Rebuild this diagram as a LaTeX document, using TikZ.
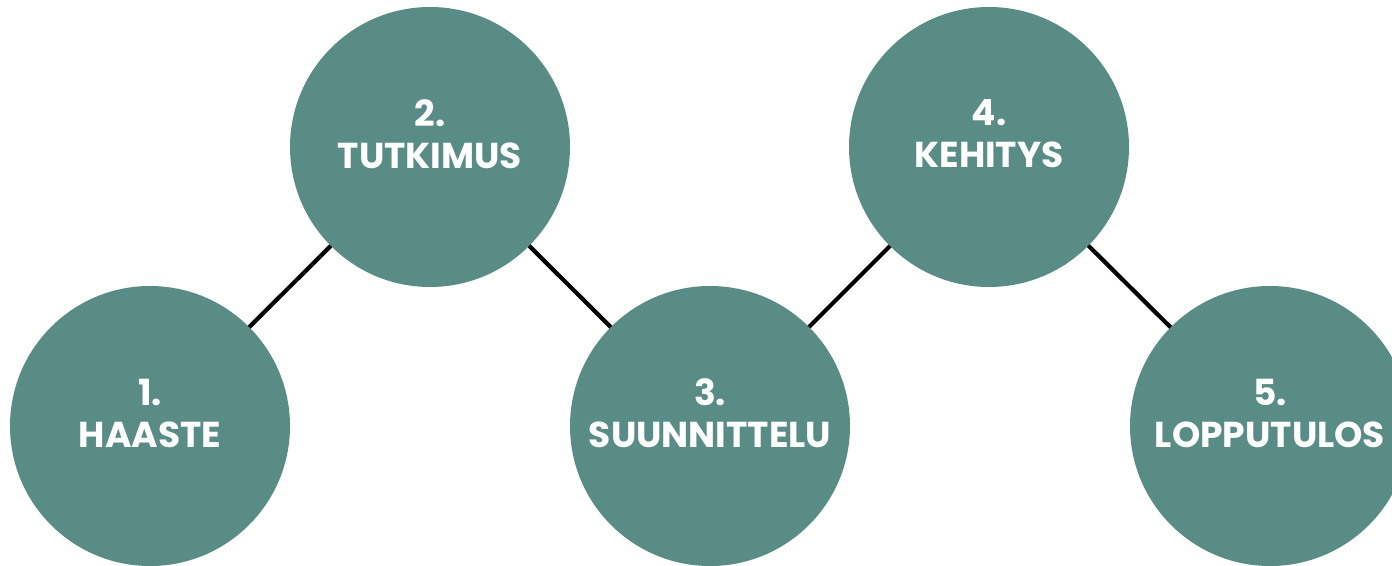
\documentclass[tikz,border=0pt]{standalone}
\usepackage{fontspec}
\setmainfont{Poppins}[BoldFont={* Bold}]
\definecolor{teal1}{HTML}{5A8C86}
\begin{document}
\begin{tikzpicture}[x=1pt,y=1pt,
  stage/.style={circle, fill=teal1, minimum size=280pt, inner sep=0pt},
  stagetext/.style={text=white, inner sep=0pt,
    font=\fontsize{36}{42}\selectfont\bfseries, align=center},
  link/.style={draw=black, line width=4.2pt}]
\useasboundingbox (0,0) rectangle (1392,565);
\clip (0,0) rectangle (1392,565);
\coordinate (c1) at (150,139);
\coordinate (c2) at (430,418);
\coordinate (c3) at (710,139);
\coordinate (c4) at (989,418);
\coordinate (c5) at (1270,139);
\draw[link] (c1) -- (c2) -- (c3) -- (c4) -- (c5);
\node[stage] (n1) at (c1) {};
\node[stage] (n2) at (c2) {};
\node[stage] (n3) at (c3) {};
\node[stage] (n4) at (c4) {};
\node[stage] (n5) at (c5) {};
\node[stagetext] (t1) at ([yshift=13pt]n1.center) {1.\\HAASTE};
\node[stagetext] (t2) at ([yshift=13pt]n2.center) {2.\\TUTKIMUS};
\node[stagetext] (t3) at ([yshift=13pt]n3.center) {3.\\SUUNNITTELU};
\node[stagetext] (t4) at ([yshift=13pt]n4.center) {4.\\KEHITYS};
\node[stagetext] (t5) at ([yshift=13pt]n5.center) {5.\\LOPPUTULOS};
\end{tikzpicture}
\end{document}
